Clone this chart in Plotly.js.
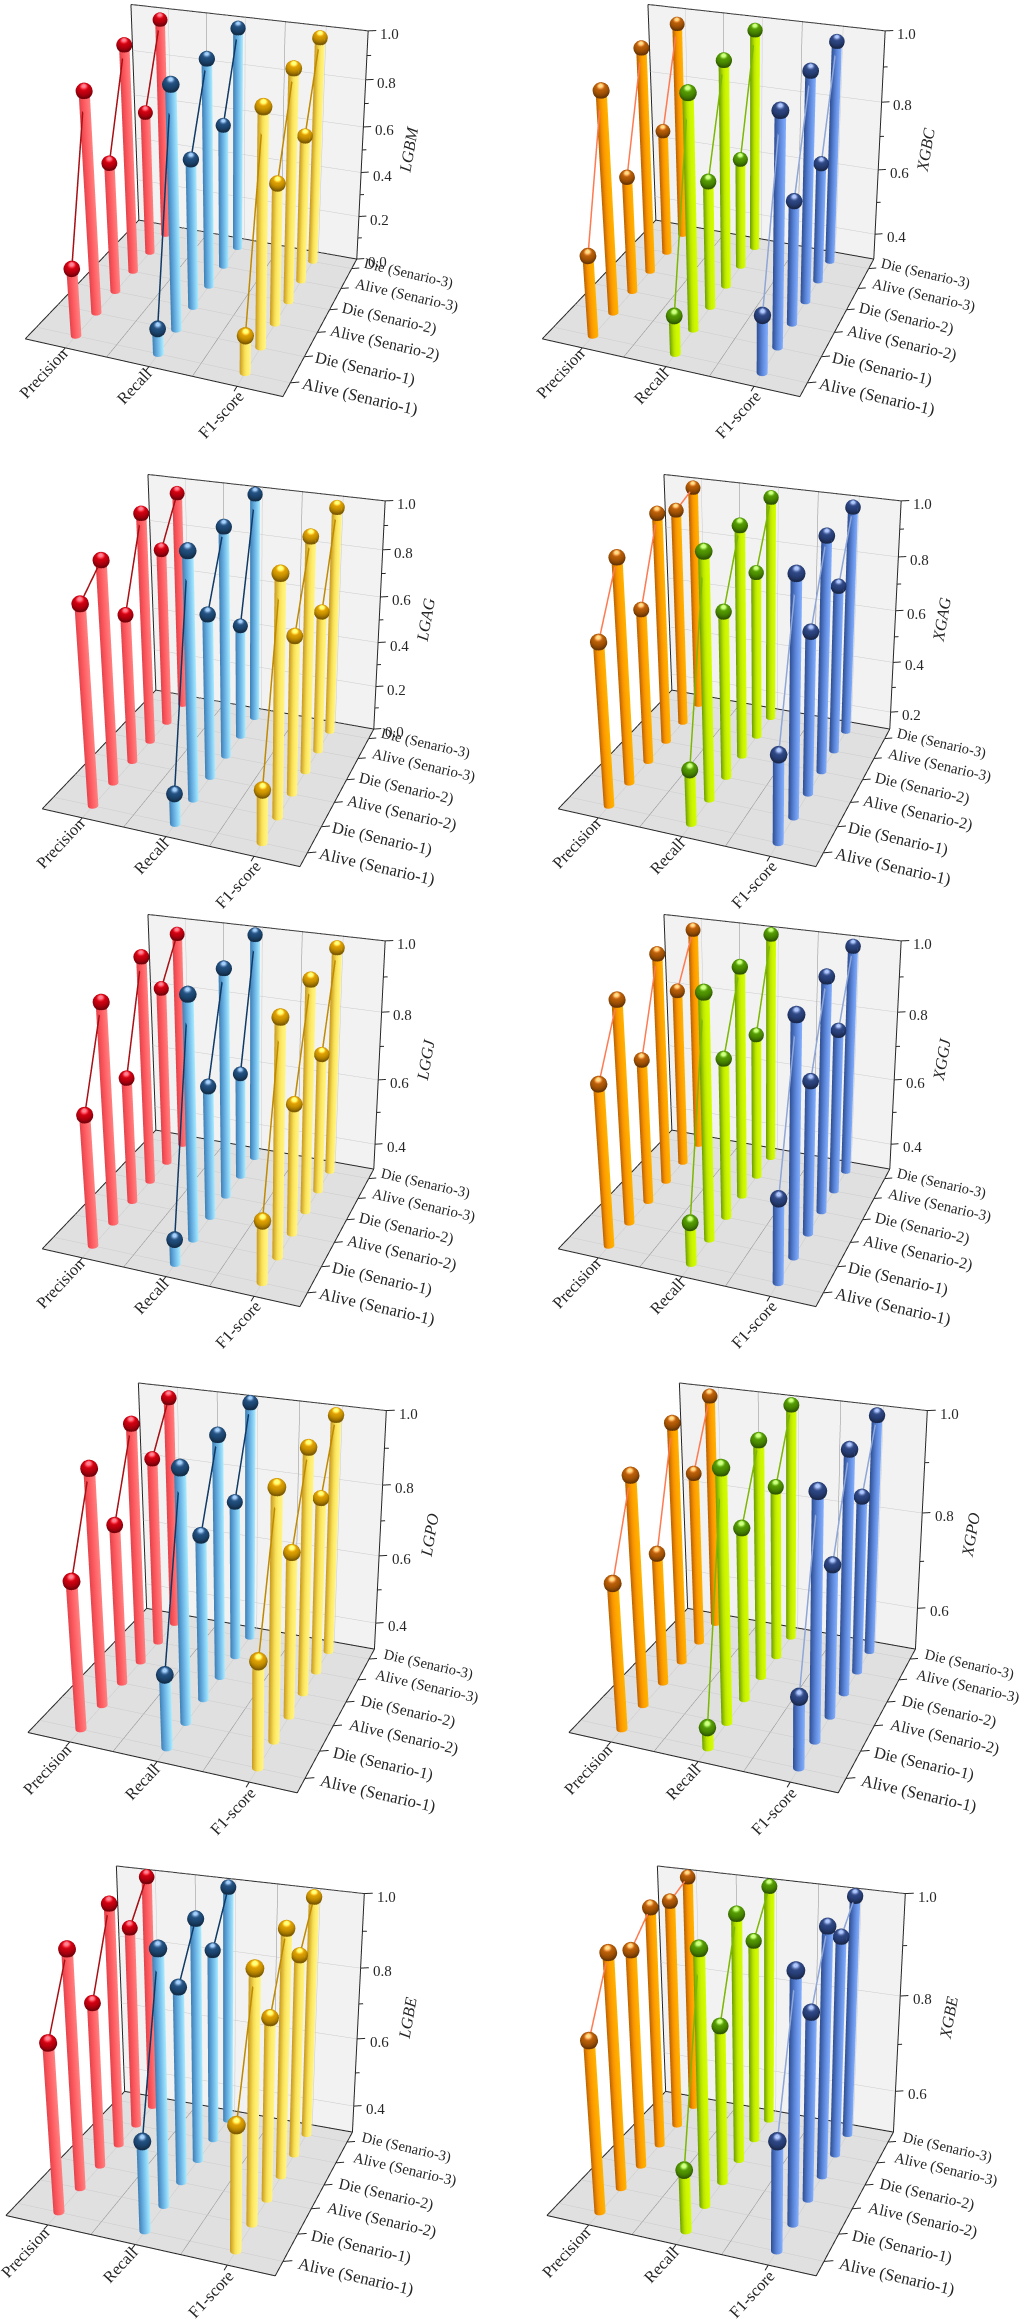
<!DOCTYPE html>
<html>
<head>
<meta charset="utf-8">
<script src="https://cdn.plot.ly/plotly-3.0.1.min.js"></script>
<style>
  html, body { margin: 0; padding: 0; background: #fff; width: 1022px; height: 2319px; overflow: hidden; position: relative; }
  .panel { position: absolute; }
</style>
</head>
<body>
<script>
// row labels and metric labels
const scenarios = ['Alive (Senario-1)', 'Die (Senario-1)', 'Alive (Senario-2)', 'Die (Senario-2)', 'Alive (Senario-3)', 'Die (Senario-3)'];
const metrics = ['Precision', 'Recall', 'F1-score'];
const majorTicks = [0, 0.2, 0.4, 0.6, 0.8, 1.0];
const minorTicks = [0.1, 0.3, 0.5, 0.7, 0.9];

// values: one row per metric, one column per scenario
const LGBM = [[0.285, 0.913, 0.560, 0.977, 0.638, 0.977], [0.106, 0.982, 0.629, 0.963, 0.632, 0.979], [0.154, 0.947, 0.588, 0.968, 0.637, 0.978]];
const XGBC = [[0.550, 0.942, 0.661, 0.976, 0.699, 0.972], [0.429, 0.967, 0.687, 0.971, 0.650, 0.980], [0.481, 0.955, 0.672, 0.972, 0.674, 0.975]];
const LGAG = [[0.816, 0.916, 0.636, 0.983, 0.778, 0.962], [0.127, 0.995, 0.689, 0.971, 0.501, 0.995], [0.218, 0.959, 0.657, 0.975, 0.612, 0.979]];
const XGAG = [[0.714, 0.936, 0.702, 0.985, 0.950, 0.987], [0.327, 0.994, 0.739, 0.979, 0.763, 0.984], [0.442, 0.964, 0.716, 0.981, 0.755, 0.983]];
const LGGJ = [[0.689, 0.938, 0.687, 0.979, 0.853, 0.972], [0.390, 0.988, 0.701, 0.976, 0.637, 0.995], [0.493, 0.963, 0.691, 0.975, 0.729, 0.985]];
const XGGJ = [[0.771, 0.944, 0.738, 0.987, 0.846, 0.984], [0.438, 0.993, 0.777, 0.980, 0.751, 0.996], [0.553, 0.969, 0.753, 0.983, 0.797, 0.989]];
const LGPO = [[0.718, 0.953, 0.765, 0.988, 0.857, 0.987], [0.519, 0.985, 0.773, 0.987, 0.770, 0.999], [0.601, 0.970, 0.765, 0.984, 0.813, 0.992]];
const XGPO = [[0.793, 0.954, 0.775, 0.993, 0.868, 0.994], [0.551, 0.989, 0.850, 0.981, 0.864, 0.995], [0.647, 0.972, 0.808, 0.985, 0.868, 0.994]];
const LGBE = [[0.772, 0.959, 0.778, 0.996, 0.895, 0.998], [0.562, 0.990, 0.853, 0.985, 0.864, 0.995], [0.649, 0.974, 0.810, 0.989, 0.881, 0.995]];
const XGBE = [[0.840, 0.964, 0.939, 0.990, 0.976, 0.998], [0.630, 0.993, 0.822, 0.998, 0.920, 0.998], [0.718, 0.978, 0.873, 0.996, 0.949, 0.998]];

// colour sets: [stem dark, stem mid, stem light, ball, connecting line]
const leftColors = [
  ['#e2424a', '#ff5a60', '#ff8080', '#c80010', '#a80f14'],
  ['#3f7fb4', '#6cb6e8', '#a9ecff', '#1f4c7a', '#103a66'],
  ['#c99a20', '#ffe95e', '#fff58a', '#d59a00', '#c08a00']
];
const rightColors = [
  ['#b85e00', '#ff9a00', '#ffb300', '#b25a05', '#ff7a50'],
  ['#6c9e00', '#c8f000', '#d4ff00', '#4f9400', '#7cb800'],
  ['#2f4f94', '#5c88dc', '#86b0ff', '#2b4480', '#8fa6d8']
];

// panel list: title, values, bottom of z axis, colours, front-left floor corner in page px, scale
const panels = [
  ['LGBM', LGBM, 0,    leftColors,  26.7, 336.7, 1],
  ['XGBC', XGBC, 0.32, rightColors, 543.3, 336, 1],
  ['LGAG', LGAG, 0,    leftColors,  43.3, 806.7, 1],
  ['XGAG', XGAG, 0.13, rightColors, 559.3, 806.7, 1],
  ['LGGJ', LGGJ, 0.32, leftColors,  43.3, 1246.7, 1],
  ['XGGJ', XGGJ, 0.32, rightColors, 559.3, 1246.7, 1],
  ['LGPO', LGPO, 0.32, leftColors,  29, 1729.3, 1.045],
  ['XGPO', XGPO, 0.51, rightColors, 569.7, 1729.3, 1.045],
  ['LGBE', LGBE, 0.32, leftColors,  6.7, 2212.7, 1.045],
  ['XGBE', XGBE, 0.51, rightColors, 547.7, 2212.7, 1.045]
];

const serif = '"Liberation Serif", "Times New Roman", serif';
const MARGIN = 0.06;      // axis range runs past the box so nothing gets clipped
const STEM_R = 0.0195;    // in box widths
const BALL_R = 0.03;
const VIEW_W = 600, VIEW_H = 928;

function hexToRgb(h) { return [1, 3, 5].map(i => parseInt(h.substr(i, 2), 16)); }
function mixColor(a, b, t) {
  const ca = hexToRgb(a), cb = hexToRgb(b);
  return 'rgb(' + ca.map((c, i) => Math.round(c + (cb[i] - c) * t)).join(',') + ')';
}

// stems of one metric as one shaded mesh
function stemTrace(xPos, values, zMin, colors) {
  const xs = [], ys = [], zs = [], vc = [], I = [], J = [], K = [];
  const n = 14;
  values.forEach((v, row) => {
    const base = xs.length;
    for (let a = 0; a < n; a++) {
      const ang = 2 * Math.PI * a / n;
      const cx = Math.cos(ang), cy = Math.sin(ang);
      const t = 0.938 * cx + 0.36 * cy; // -1 left edge on screen, +1 right edge
      const col = t < 0 ? mixColor(colors[0], colors[1], t + 1) : mixColor(colors[1], colors[2], t);
      [zMin, v].forEach(z => {
        xs.push(xPos + STEM_R * 3 * cx);
        ys.push(row + 1 + STEM_R * 6 * cy);
        zs.push(z);
        vc.push(col);
      });
    }
    for (let a = 0; a < n; a++) {
      const b = (a + 1) % n;
      I.push(base + 2 * a, base + 2 * b);
      J.push(base + 2 * b, base + 2 * b + 1);
      K.push(base + 2 * a + 1, base + 2 * a + 1);
    }
  });
  return { type: 'mesh3d', x: xs, y: ys, z: zs, i: I, j: J, k: K, vertexcolor: vc, hoverinfo: 'skip',
    lighting: { ambient: 1, diffuse: 0, specular: 0, roughness: 1, fresnel: 0 } };
}

// balls on top of the stems
function ballTrace(xPos, values, zMin, color) {
  const xs = [], ys = [], zs = [], I = [], J = [], K = [];
  const nLat = 10, nLon = 16, rz = BALL_R * (1 - zMin);
  values.forEach((v, row) => {
    const base = xs.length;
    for (let p = 0; p <= nLat; p++) {
      const phi = Math.PI * p / nLat;
      for (let q = 0; q < nLon; q++) {
        const th = 2 * Math.PI * q / nLon;
        xs.push(xPos + BALL_R * 3 * Math.sin(phi) * Math.cos(th));
        ys.push(row + 1 + BALL_R * 6 * Math.sin(phi) * Math.sin(th));
        zs.push(v + rz * Math.cos(phi));
      }
    }
    for (let p = 0; p < nLat; p++) {
      for (let q = 0; q < nLon; q++) {
        const a = base + p * nLon + q, b = base + p * nLon + (q + 1) % nLon;
        const c = a + nLon, d = b + nLon;
        I.push(a, b); J.push(c, c); K.push(b, d);
      }
    }
  });
  return { type: 'mesh3d', x: xs, y: ys, z: zs, i: I, j: J, k: K, color: color, hoverinfo: 'skip',
    lighting: { ambient: 0.6, diffuse: 0.55, specular: 1.0, roughness: 0.32, fresnel: 0.1 },
    lightposition: { x: 300, y: -1500, z: 2500 } };
}

// Alive -> Die link inside each scenario
function linkTrace(xPos, values, color) {
  const xs = [], ys = [], zs = [];
  for (let r = 0; r < values.length; r += 2) {
    xs.push(xPos, xPos, null);
    ys.push(r + 1, r + 2, null);
    zs.push(values[r], values[r + 1], null);
  }
  return { type: 'scatter3d', mode: 'lines', x: xs, y: ys, z: zs, hoverinfo: 'skip', line: { color: color, width: 3 } };
}

function lineSet(segs, color, width) {
  const xs = [], ys = [], zs = [];
  segs.forEach(s => {
    xs.push(s[0], s[3], null); ys.push(s[1], s[4], null); zs.push(s[2], s[5], null);
  });
  return { type: 'scatter3d', mode: 'lines', x: xs, y: ys, z: zs, hoverinfo: 'skip', line: { color: color, width: width } };
}

function planeTrace(x, y, z, color) {
  return { type: 'mesh3d', x: x, y: y, z: z, i: [0, 0], j: [1, 2], k: [2, 3], color: color, hoverinfo: 'skip',
    flatshading: true, lighting: { ambient: 1, diffuse: 0, specular: 0, roughness: 1, fresnel: 0 } };
}

function drawPanel(p) {
  const [title, values, zMin, colors, fx, fy, scale] = p;
  const zR = 1 - zMin;
  const x0 = 0.5, x1 = 3.5, y0 = 0.5, y1 = 6.5;
  const zTop = 1;
  const eps = 0.002;
  const traces = [];

  traces.push(planeTrace([x0, x1, x1, x0], [y0, y0, y1, y1], Array(4).fill(zMin - eps * zR), '#e0e0e0'));
  traces.push(planeTrace([x0, x1, x1, x0], Array(4).fill(y1 + eps * 6), [zMin, zMin, zTop, zTop], '#f2f2f2'));

  const major = majorTicks.filter(t => t >= zMin);
  const minor = minorTicks.filter(t => t >= zMin);

  // grid
  const lightGrid = [], darkGrid = [];
  [1, 2, 3].forEach(x => {
    lightGrid.push([x, y0, zMin, x, y1, zMin], [x, y1, zMin, x, y1, zTop]);
  });
  [1.5, 2.5].forEach(x => {
    darkGrid.push([x, y0, zMin, x, y1, zMin], [x, y1, zMin, x, y1, zTop]);
  });
  scenarios.forEach((s, r) => lightGrid.push([x0, r + 1, zMin, x1, r + 1, zMin]));
  major.forEach(t => lightGrid.push([x0, y1, t, x1, y1, t]));
  traces.push(lineSet(lightGrid, '#cbcbcb', 1));
  traces.push(lineSet(darkGrid, '#8c8c8c', 1));

  // box outline and ticks
  const outline = [
    [x0, y0, zMin, x1, y0, zMin], [x1, y0, zMin, x1, y1, zMin], [x1, y1, zMin, x0, y1, zMin], [x0, y1, zMin, x0, y0, zMin],
    [x0, y1, zMin, x0, y1, zTop], [x0, y1, zTop, x1, y1, zTop], [x1, y1, zTop, x1, y1, zMin]
  ];
  metrics.forEach((m, i) => outline.push([i + 1, y0, zMin, i + 1, y0 - 0.18, zMin]));
  scenarios.forEach((s, r) => outline.push([x1, r + 1, zMin, x1 + 0.084, r + 1.09, zMin]));
  major.forEach(t => outline.push([x1, y1, t, x1 + 0.084, y1 + 0.09, t]));
  minor.forEach(t => outline.push([x1, y1, t, x1 + 0.045, y1 + 0.045, t]));
  traces.push(lineSet(outline, '#262626', 2));

  colors.forEach((c, i) => {
    traces.push(stemTrace(i + 1, values[i], zMin, c));
    traces.push(ballTrace(i + 1, values[i], zMin, c[3]));
    traces.push(linkTrace(i + 1, values[i], c[4]));
  });

  // labels
  const ann = [];
  const label = (x, y, z, text, dx, dy, angle, size, italic) => ann.push({
    x: x, y: y, z: z, text: text, showarrow: false, xanchor: 'center', yanchor: 'middle',
    xshift: dx * scale, yshift: -dy * scale, textangle: angle,
    font: { family: serif, size: size, color: '#262626', style: italic ? 'italic' : 'normal' }
  });
  const xLabelShift = [[-22, 26], [-14, 19], [-16, 28]];
  metrics.forEach((m, i) => label(i + 1, y0, zMin, m, xLabelShift[i][0], xLabelShift[i][1], -47, 16.5));
  scenarios.forEach((s, r) => label(x1, r + 1, zMin, s, (r % 2 ? 62 : 70) - r, 14 - 1.8 * r, 13, 16.8 - 0.45 * r));
  major.forEach(t => label(x1, y1, t, t.toFixed(1), 21, 3, 0, 15));
  label(x1, y1, zMin + zR / 2, title, 47, 0, -80, 16.5, true);

  const mx = 3 * MARGIN, my = 6 * MARGIN, mz = zR * MARGIN;
  const layout = {
    width: VIEW_W,
    height: VIEW_H * scale,
    margin: { l: 0, r: 0, t: 0, b: 0 },
    paper_bgcolor: 'rgba(0,0,0,0)',
    showlegend: false,
    scene: {
      bgcolor: 'rgba(0,0,0,0)',
      domain: { x: [0, 1], y: [0, 1] },
      xaxis: { range: [x0 - mx, x1 + mx], visible: false },
      yaxis: { range: [y0 - my, y1 + my], visible: false },
      zaxis: { range: [zMin - mz, zTop + mz], visible: false },
      aspectmode: 'manual',
      aspectratio: { x: 1 + 2 * MARGIN, y: 1 + 2 * MARGIN, z: 1 + 2 * MARGIN },
      camera: {
        eye: { x: 1.435, y: -3.518, z: 1.841 },
        center: { x: 0.097, y: 0.087, z: 0.209 },
        up: { x: 0, y: 0, z: 1 }
      },
      annotations: ann
    }
  };

  const div = document.createElement('div');
  div.className = 'panel';
  div.style.left = (fx + 205.7 * scale - VIEW_W / 2) + 'px';
  div.style.top = (fy - 210.3 * scale - VIEW_H * scale / 2) + 'px';
  document.body.appendChild(div);
  Plotly.newPlot(div, traces, layout, { displayModeBar: false });
}

panels.forEach(drawPanel);
</script>
</body>
</html>
